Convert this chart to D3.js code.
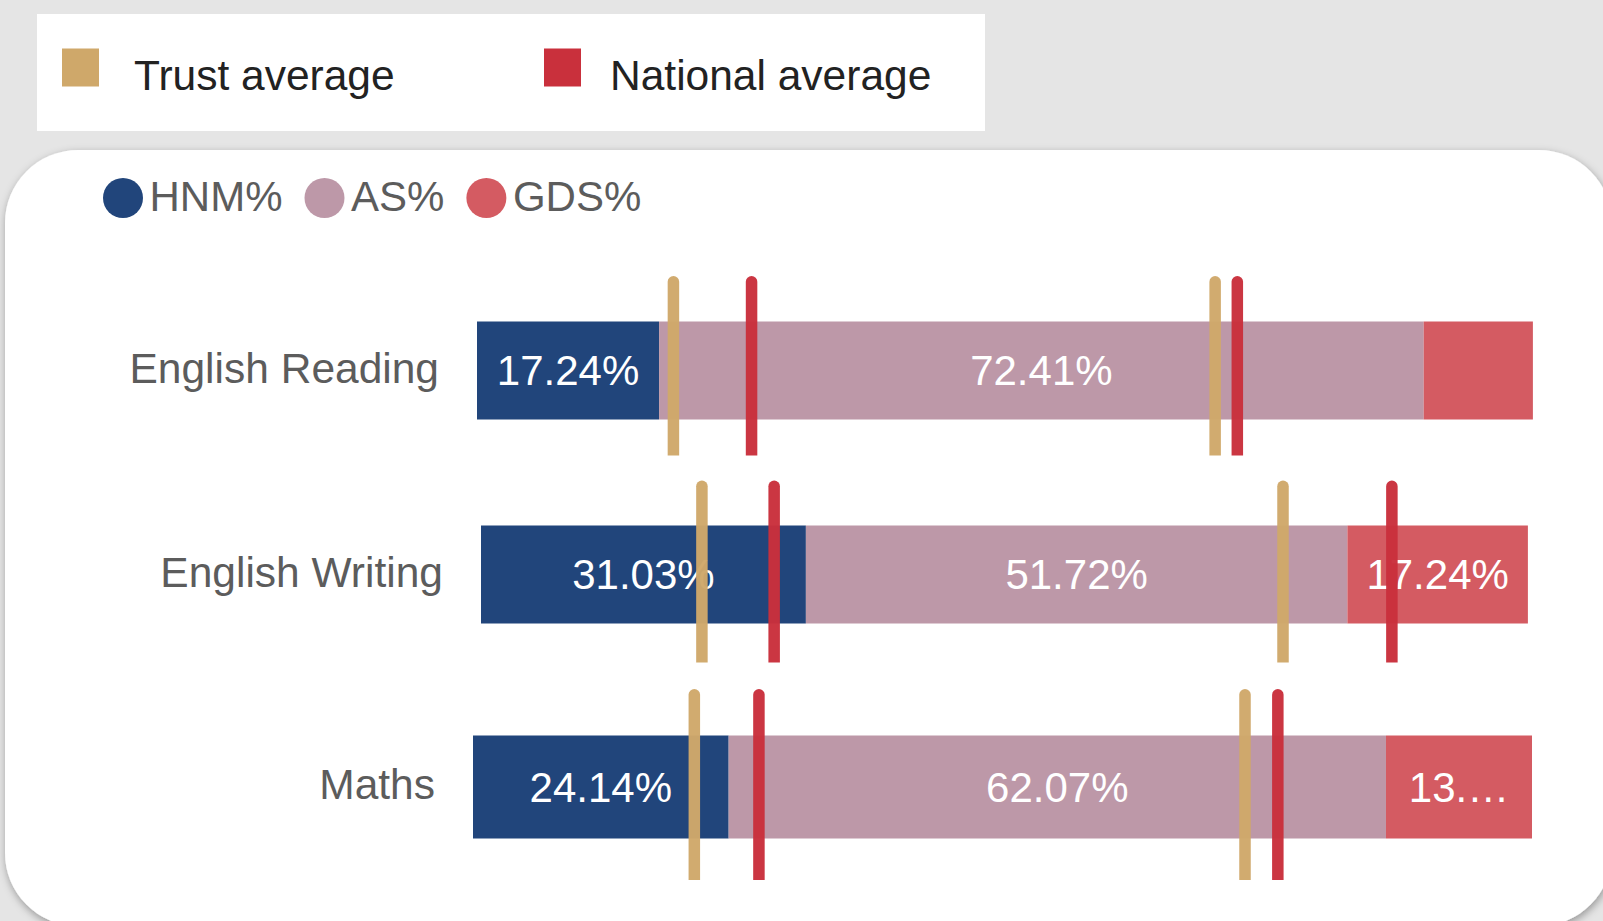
<!DOCTYPE html>
<html>
<head>
<meta charset="utf-8">
<script src="https://cdn.jsdelivr.net/npm/d3@7"></script>
<style>
  html, body { margin: 0; padding: 0; background: #e5e5e5; }
  svg { display: block; font-family: "Liberation Sans", Arial, Helvetica, sans-serif; }
</style>
</head>
<body>
<svg id="chart" width="1603" height="921"></svg>
<script>
// data
const categories = ["English Reading", "English Writing", "Maths"];
const hnm = [17.24, 31.03, 24.14];
const as = [72.41, 51.72, 62.07];
const gds = [10.34, 17.24, 13.79];
// cumulative marker positions (% along the bar)
const trustHnm = [18.6, 21.1, 20.9];
const trustHnmAs = [69.9, 76.6, 72.9];
const nationalHnm = [26.0, 28.0, 27.0];
const nationalHnmAs = [72.0, 87.0, 76.0];

const seriesNames = ["HNM%", "AS%", "GDS%"];
const seriesColors = ["#21457b", "#bd98a8", "#d45b62"];
const trustColor = "#cfa86a";
const nationalColor = "#c9303c";

// layout (per row: horizontal range, centre, bar height, marker extents)
const rowRanges = [[477, 1533], [481, 1528], [473, 1532]];
const rowCentres = [370.5, 574.5, 787];
const rowBarH = [98, 98, 103];
const rowMarkTop = [94.5, 94, 98];
const rowMarkBot = [85, 88, 93];

const svg = d3.select("#chart");

const defs = svg.append("defs");
const f = defs.append("filter").attr("id", "shadow")
  .attr("x", "-5%").attr("y", "-5%").attr("width", "110%").attr("height", "115%");
f.append("feDropShadow").attr("dx", 1).attr("dy", 3).attr("stdDeviation", 4)
  .attr("flood-color", "#000").attr("flood-opacity", 0.35);

// top legend box
svg.append("rect").attr("x", 37).attr("y", 14).attr("width", 948).attr("height", 117).attr("fill", "#fff");
const topLegend = [
  { name: "Trust average", color: trustColor, x: 62, tx: 72 },
  { name: "National average", color: nationalColor, x: 544, tx: 66 }
];
const tl = svg.selectAll("g.toplegend").data(topLegend).enter().append("g")
  .attr("transform", d => `translate(${d.x},0)`);
tl.append("rect").attr("x", 0).attr("y", 48.5).attr("width", 37).attr("height", 38).attr("fill", d => d.color);
tl.append("text").attr("x", d => d.tx).attr("y", 90).attr("font-size", 42.5).attr("fill", "#222").text(d => d.name);

// card
svg.append("rect").attr("x", 5).attr("y", 150).attr("width", 1607).attr("height", 776)
  .attr("rx", 73).attr("ry", 73).attr("fill", "#fff").attr("filter", "url(#shadow)");

// series legend
const lg = svg.append("g");
let lx = 103;
seriesNames.forEach((name, i) => {
  lg.append("circle").attr("cx", lx + 20).attr("cy", 198).attr("r", 20).attr("fill", seriesColors[i]);
  const t = lg.append("text").attr("x", lx + 46.5).attr("y", 210.5).attr("font-size", 42)
    .attr("fill", "#5c5c5c").text(name);
  lx = lx + 46.5 + t.node().getComputedTextLength() + 22;
});

// rows
const y = d3.scaleOrdinal().domain(categories).range(rowCentres);

categories.forEach((cat, i) => {
  const x = d3.scaleLinear().domain([0, 100]).range(rowRanges[i]);
  const cy = y(cat);
  const barH = rowBarH[i];
  const g = svg.append("g");

  g.append("text").attr("x", rowRanges[i][0] - 38).attr("y", cy + 12)
    .attr("text-anchor", "end").attr("font-size", 42.5).attr("fill", "#5c5c5c").text(cat);

  const vals = [hnm[i], as[i], gds[i]];
  let acc = 0;
  const segs = vals.map((v, k) => {
    const s = { k, v, x0: acc, x1: acc + v };
    acc += v;
    return s;
  });

  g.selectAll("rect.seg").data(segs).enter().append("rect")
    .attr("class", "seg")
    .attr("x", d => x(d.x0))
    .attr("y", cy - barH / 2)
    .attr("width", d => x(d.x1) - x(d.x0))
    .attr("height", barH)
    .attr("fill", d => seriesColors[d.k]);

  segs.forEach(d => {
    const w = x(d.x1) - x(d.x0);
    const full = d.v.toFixed(2) + "%";
    const t = g.append("text")
      .attr("x", (x(d.x0) + x(d.x1)) / 2).attr("y", cy).attr("dy", "0.35em")
      .attr("text-anchor", "middle").attr("font-size", 42).attr("fill", "#fff")
      .text(full);
    const avail = w - 30;
    if (t.node().getComputedTextLength() <= avail) return;
    let shown = false;
    for (let n = full.length - 1; n >= 3; n--) {
      t.text(full.slice(0, n) + "\u2026");
      if (t.node().getComputedTextLength() <= avail) { shown = true; break; }
    }
    if (!shown) t.remove();
  });

  const markers = [
    { v: trustHnm[i], c: trustColor },
    { v: nationalHnm[i], c: nationalColor },
    { v: trustHnmAs[i], c: trustColor },
    { v: nationalHnmAs[i], c: nationalColor }
  ];
  const mw = 11.5, top = cy - rowMarkTop[i], bot = cy + rowMarkBot[i], r = mw / 2;
  g.selectAll("path.marker").data(markers).enter().append("path")
    .attr("class", "marker")
    .attr("d", d => {
      const mx = x(d.v);
      return `M${mx - r},${bot}V${top + r}A${r},${r} 0 0 1 ${mx + r},${top + r}V${bot}Z`;
    })
    .attr("fill", d => d.c)
    .attr("opacity", 0.97);
});
</script>
</body>
</html>
